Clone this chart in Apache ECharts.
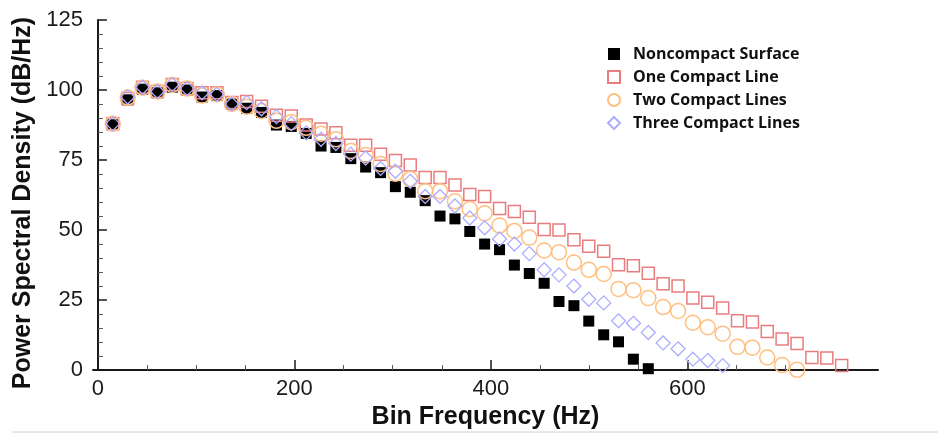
<!DOCTYPE html>
<html>
<head>
<meta charset="utf-8">
<script src="https://cdn.jsdelivr.net/npm/echarts@6/dist/echarts.min.js"></script>
<style>
html,body{margin:0;padding:0;background:#fff;}
#chart{width:938px;height:435px;}
</style>
</head>
<body>
<div id="chart"></div>
<script>
// Bin frequencies (Hz)
const freqs = [15.1, 30.3, 45.4, 60.6, 75.7, 90.8, 106.0, 121.1, 136.3, 151.4,
  166.5, 181.7, 196.8, 212.0, 227.1, 242.2, 257.4, 272.5, 287.7, 302.8,
  317.9, 333.1, 348.2, 363.4, 378.5, 393.6, 408.8, 423.9, 439.1, 454.2,
  469.3, 484.5, 499.6, 514.8, 529.9, 545.0, 560.2, 575.3, 590.5, 605.6,
  620.7, 635.9, 651.0, 666.2, 681.3, 696.4, 711.6, 726.7, 741.9, 757.0];

const seriesNames = ['Noncompact Surface', 'One Compact Line', 'Two Compact Lines', 'Three Compact Lines'];

const noncompact = [87.6, 96.5, 100.3, 99.0, 101.0, 100.0, 97.5, 98.0, 95.0, 93.5,
  92.0, 87.5, 87.0, 84.5, 80.0, 79.5, 75.5, 72.5, 70.5, 65.5,
  63.5, 60.5, 55.0, 54.0, 49.5, 45.0, 43.0, 37.5, 34.5, 31.0,
  24.5, 23.0, 17.5, 12.6, 10.1, 3.9, 0.5];

const oneLine = [88.0, 97.0, 101.0, 99.5, 102.0, 100.5, 99.0, 99.0, 95.5, 95.9,
  94.2, 91.0, 90.7, 87.5, 86.1, 84.7, 80.3, 80.3, 77.1, 74.8,
  73.2, 68.8, 68.8, 66.1, 62.7, 62.0, 57.7, 56.6, 54.6, 50.2,
  50.0, 46.5, 44.2, 42.4, 37.6, 37.3, 34.6, 30.8, 30.0, 25.7,
  24.2, 22.2, 17.6, 17.2, 13.8, 11.1, 9.5, 4.5, 4.3, 1.6];

const twoLines = [88.0, 97.3, 100.8, 99.5, 101.8, 100.5, 98.0, 98.5, 95.0, 94.0,
  92.5, 89.0, 88.5, 86.5, 84.4, 82.4, 78.2, 76.8, 73.6, 70.1,
  68.2, 63.9, 63.9, 60.3, 57.5, 56.0, 51.6, 49.7, 47.3, 42.7,
  42.1, 38.4, 35.8, 34.3, 29.0, 28.5, 25.7, 22.5, 21.1, 16.9,
  15.3, 13.0, 8.3, 8.0, 4.5, 1.8, 0.1];

const threeLines = [88.0, 97.5, 101.0, 99.5, 102.0, 100.5, 99.0, 98.5, 95.0, 95.5,
  93.3, 90.5, 88.0, 84.7, 82.4, 80.9, 77.1, 75.7, 72.0, 71.0,
  67.4, 62.0, 62.0, 58.6, 54.3, 50.8, 46.8, 45.0, 41.6, 35.8,
  34.0, 30.0, 25.3, 24.0, 17.6, 16.7, 13.4, 9.7, 7.6, 3.9,
  3.4, 1.6];

const xMajorTicks = [0, 200, 400, 600];
const xMinorTicks = [50, 100, 150, 250, 300, 350, 450, 500, 550, 650, 700, 750];

function pairs(vals) { return vals.map((v, i) => [freqs[i], v]); }

const chart = echarts.init(document.getElementById('chart'), null, {renderer: 'canvas'});
const axisColor = '#1a1a1a';
const tickFont = {fontFamily: 'Liberation Sans', fontSize: 22, color: '#1a1a1a'};

chart.setOption({
  animation: false,
  backgroundColor: '#ffffff',
  grid: {left: 93, right: 60, top: 20, bottom: 57, containLabel: false},
  legend: {
    orient: 'vertical',
    left: 602,
    top: 41,
    itemWidth: 12,
    itemHeight: 12,
    itemGap: 7,
    data: seriesNames,
    formatter: '{t|{name}}',
    textStyle: {
      rich: {t: {fontFamily: 'Open Sans', fontWeight: 'bold', fontSize: 16, color: '#111', padding: [0, 0, 0, 8]}}
    }
  },
  xAxis: [{
    type: 'value', min: -5, max: 794,
    axisLine: {show: true, lineStyle: {color: axisColor, width: 2}},
    axisTick: {show: true, inside: true, length: 10, customValues: xMajorTicks, lineStyle: {color: axisColor, width: 1.5}},
    axisLabel: Object.assign({customValues: xMajorTicks, margin: 8}, tickFont),
    splitLine: {show: false},
    name: 'Bin Frequency (Hz)', nameLocation: 'middle', nameGap: 18,
    nameTextStyle: {fontFamily: 'Liberation Sans', fontWeight: 'bold', fontSize: 25, color: '#111'}
  }, {
    type: 'value', min: -5, max: 794, position: 'bottom',
    axisLine: {show: false},
    axisTick: {show: true, inside: true, length: 5, customValues: xMinorTicks, lineStyle: {color: '#555', width: 1}},
    axisLabel: {show: false},
    splitLine: {show: false}
  }],
  yAxis: {
    type: 'value', min: 0, max: 125, interval: 25,
    axisLine: {show: true, lineStyle: {color: axisColor, width: 2}},
    axisTick: {show: true, inside: true, length: 9, lineStyle: {color: axisColor, width: 1.5}},
    minorTick: {show: true, splitNumber: 5, length: 5, lineStyle: {color: '#555', width: 1}},
    axisLabel: Object.assign({margin: 10}, tickFont),
    splitLine: {show: false},
    name: 'Power Spectral Density (dB/Hz)', nameLocation: 'middle', nameGap: 53,
    nameTextStyle: {fontFamily: 'Liberation Sans', fontWeight: 'bold', fontSize: 25, color: '#111', padding: [0, 16, 0, 0]}
  },
  series: [{
    name: seriesNames[0], type: 'scatter', symbol: 'rect', symbolSize: 11, z: 2,
    itemStyle: {color: '#000000', opacity: 1},
    data: pairs(noncompact)
  }, {
    name: seriesNames[1], type: 'scatter', symbol: 'rect', symbolSize: 12, z: 3,
    itemStyle: {color: 'rgba(255,255,255,0)', borderColor: '#e97c7e', borderWidth: 1.5, opacity: 1},
    data: pairs(oneLine)
  }, {
    name: seriesNames[2], type: 'scatter', symbol: 'circle', symbolSize: 15, z: 4,
    itemStyle: {color: 'rgba(255,255,255,0)', borderColor: '#ffbf80', borderWidth: 1.5, opacity: 1},
    data: pairs(twoLines)
  }, {
    name: seriesNames[3], type: 'scatter', symbol: 'diamond', symbolSize: 14, z: 5,
    itemStyle: {color: 'rgba(255,255,255,0)', borderColor: '#adadff', borderWidth: 1.3, opacity: 1},
    data: pairs(threeLines)
  }],
  graphic: [{
    type: 'line', shape: {x1: 12, y1: 432, x2: 938, y2: 432},
    style: {stroke: '#d0d0d0', lineWidth: 1}, silent: true
  }]
});
</script>
</body>
</html>
